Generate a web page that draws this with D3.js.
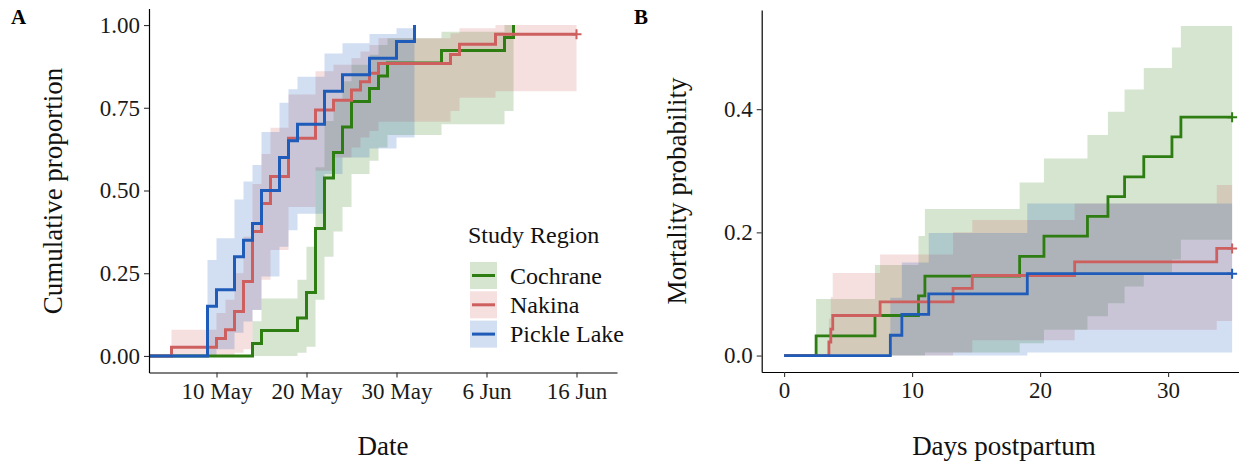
<!DOCTYPE html>
<html><head><meta charset="utf-8">
<script src="https://cdn.jsdelivr.net/npm/d3@7"></script>
<style>
body{margin:0;background:#fff}
svg{display:block}
text{font-family:"Liberation Serif","Times New Roman",serif}
</style>
</head><body>
<svg id="c" width="1239" height="465"></svg>
<script>
// ---------- shared ----------
const regions = ["Cochrane", "Nakina", "Pickle Lake"];
const lineColors = ["#2e7d12", "#cd5f5f", "#1f5bb8"];

// ---------- Panel A : cumulative proportion by date (days after 10 May) ----------
const aXTicks = [0, 10, 20, 30, 40];
const aXTickLabels = ["10 May", "20 May", "30 May", "6 Jun", "16 Jun"];
const aYTicks = [0, 0.25, 0.5, 0.75, 1];
const aStart = -7.4;

const cochraneA_t  = [4, 5, 9, 10, 11, 12, 13, 14, 15, 17, 18, 19, 25, 32, 33];
const cochraneA_y  = [0.038, 0.077, 0.115, 0.192, 0.385, 0.538, 0.615, 0.692, 0.769, 0.808, 0.846, 0.885, 0.923, 0.962, 1.0];
const cochraneA_lo = [0, 0, 0.01, 0.028, 0.17, 0.30, 0.376, 0.45, 0.55, 0.59, 0.63, 0.668, 0.70, 0.74, 1.0];
const cochraneA_hi = [0.105, 0.174, 0.23, 0.33, 0.57, 0.71, 0.77, 0.83, 0.88, 0.91, 0.94, 0.96, 0.98, 1.0, 1.0];
const cochraneA_end = 33;

const nakinaA_t  = [-5, 0, 1, 2, 3, 4, 5, 6, 8, 11, 13, 15, 16, 17, 18, 26, 27, 31];
const nakinaA_y  = [0.026, 0.053, 0.079, 0.134, 0.225, 0.376, 0.461, 0.542, 0.658, 0.743, 0.773, 0.804, 0.829, 0.854, 0.884, 0.911, 0.942, 0.972];
const nakinaA_lo = [0, 0, 0, 0.01, 0.02, 0.14, 0.23, 0.32, 0.45, 0.56, 0.60, 0.63, 0.66, 0.68, 0.708, 0.74, 0.78, 0.80];
const nakinaA_hi = [0.079, 0.13, 0.17, 0.25, 0.36, 0.52, 0.61, 0.69, 0.79, 0.86, 0.88, 0.90, 0.92, 0.94, 0.96, 0.975, 0.99, 1.0];
const nakinaA_end = 40;

const pickleA_t  = [-1, 0, 2, 3, 4, 5, 7, 8, 9, 12, 14, 17, 20, 22];
const pickleA_y  = [0.15, 0.20, 0.30, 0.35, 0.40, 0.50, 0.60, 0.65, 0.70, 0.80, 0.85, 0.90, 0.95, 1.0];
const pickleA_lo = [0, 0.02, 0.07, 0.104, 0.139, 0.24, 0.33, 0.38, 0.43, 0.55, 0.60, 0.627, 0.66, 1.0];
const pickleA_hi = [0.29, 0.356, 0.473, 0.527, 0.577, 0.677, 0.765, 0.806, 0.844, 0.914, 0.945, 0.973, 0.99, 1.0];
const pickleA_end = 22;

// ---------- Panel B : mortality probability by days postpartum ----------
const bXTicks = [0, 10, 20, 30];
const bYTicks = [0, 0.2, 0.4];
const bStart = 0;

const cochraneB_t  = [2.5, 7.1, 10.5, 11.0, 18.4, 20.3, 23.7, 25.3, 26.6, 28.1, 30.3, 31.0];
const cochraneB_y  = [0.032, 0.065, 0.097, 0.129, 0.161, 0.194, 0.226, 0.258, 0.290, 0.323, 0.355, 0.387];
const cochraneB_lo = [0, 0, 0, 0.005, 0.02, 0.042, 0.064, 0.085, 0.112, 0.135, 0.156, 0.188];
const cochraneB_hi = [0.092, 0.147, 0.194, 0.238, 0.281, 0.32, 0.358, 0.396, 0.432, 0.467, 0.50, 0.535];
const cochraneB_end = 35;

const nakinaB_t  = [3.5, 3.65, 3.8, 7.5, 13.2, 14.7, 22.7, 33.8];
const nakinaB_y  = [0.022, 0.043, 0.065, 0.087, 0.109, 0.130, 0.152, 0.174];
const nakinaB_lo = [0, 0, 0, 0, 0.005, 0.025, 0.042, 0.056];
const nakinaB_hi = [0.06, 0.095, 0.134, 0.164, 0.20, 0.22, 0.247, 0.277];
const nakinaB_end = 35;

const pickleB_t  = [8.3, 9.2, 11.3, 19.0];
const pickleB_y  = [0.033, 0.067, 0.10, 0.133];
const pickleB_lo = [0, 0, 0, 0.005];
const pickleB_hi = [0.094, 0.151, 0.199, 0.247];
const pickleB_end = 35;

// ---------- build ----------
function series(t, y, lo, hi, end, start) {
  const line = [[start, 0]].concat(t.map((d, i) => [d, y[i]]));
  line.push([end, y[y.length - 1]]);
  const band = t.map((d, i) => ({x: d, lo: lo[i], hi: hi[i]}));
  band.push({x: end, lo: lo[lo.length - 1], hi: hi[hi.length - 1]});
  return {line, band, end, last: y[y.length - 1]};
}

const seriesA = [
  series(cochraneA_t, cochraneA_y, cochraneA_lo, cochraneA_hi, cochraneA_end, aStart),
  series(nakinaA_t, nakinaA_y, nakinaA_lo, nakinaA_hi, nakinaA_end, aStart),
  series(pickleA_t, pickleA_y, pickleA_lo, pickleA_hi, pickleA_end, aStart)
];
const censorA = [false, true, false];

const seriesB = [
  series(cochraneB_t, cochraneB_y, cochraneB_lo, cochraneB_hi, cochraneB_end, bStart),
  series(nakinaB_t, nakinaB_y, nakinaB_lo, nakinaB_hi, nakinaB_end, bStart),
  series(pickleB_t, pickleB_y, pickleB_lo, pickleB_hi, pickleB_end, bStart)
];
const censorB = [true, true, true];

const svg = d3.select("#c");

function drawPanel(x, y, data, censor, lw) {
  const g = svg.append("g");
  const area = d3.area().curve(d3.curveStepAfter)
    .x(d => x(d.x)).y0(d => y(d.lo)).y1(d => y(d.hi));
  const line = d3.line().curve(d3.curveStepAfter)
    .x(d => x(d[0])).y(d => y(d[1]));
  data.forEach((s, i) => {
    g.append("path").attr("d", area(s.band))
      .attr("fill", lineColors[i]).attr("fill-opacity", 0.2);
  });
  data.forEach((s, i) => {
    g.append("path").attr("d", line(s.line))
      .attr("fill", "none").attr("stroke", lineColors[i])
      .attr("stroke-width", lw).attr("stroke-linejoin", "miter");
    if (censor[i]) {
      const cx = x(s.end), cy = y(s.last);
      g.append("path")
        .attr("d", `M${cx - 5},${cy}H${cx + 5}M${cx},${cy - 5}V${cy + 5}`)
        .attr("stroke", lineColors[i]).attr("stroke-width", 2).attr("fill", "none");
    }
  });
}

function styleAxis(sel) {
  sel.select(".domain").attr("stroke", "#000").attr("stroke-width", 1.2);
  sel.selectAll(".tick line").attr("stroke", "#333").attr("stroke-width", 1.1);
  sel.selectAll(".tick text").attr("font-size", "23px").attr("fill", "#1a1a1a")
    .attr("font-family", "'Liberation Serif','Times New Roman',serif");
}

// Panel A
const xA = d3.scaleLinear().domain([-7.5, 44.5]).range([149, 617]);
const yA = d3.scaleLinear().domain([-0.05, 1.05]).range([372.5, 8.5]);
drawPanel(xA, yA, seriesA, censorA, 3);

svg.append("g").attr("transform", "translate(0,372.5)")
  .call(d3.axisBottom(xA).tickValues(aXTicks).tickFormat((d, i) => aXTickLabels[i])
    .tickSize(5).tickSizeOuter(0).tickPadding(5))
  .call(styleAxis);
svg.append("g").attr("transform", "translate(149,0)")
  .call(d3.axisLeft(yA).tickValues(aYTicks).tickFormat(d3.format(".2f"))
    .tickSize(5).tickSizeOuter(0).tickPadding(4))
  .call(styleAxis);

// Panel B
const xB = d3.scaleLinear().domain([-1.75, 36.75]).range([761.7, 1254.5]);
const yB = d3.scaleLinear().domain([-0.0267, 0.561]).range([372, 10]);
drawPanel(xB, yB, seriesB, censorB, 2.8);

svg.append("g").attr("transform", "translate(0,372)")
  .call(d3.axisBottom(xB).tickValues(bXTicks).tickFormat(d3.format("d"))
    .tickSize(5).tickSizeOuter(0).tickPadding(5))
  .call(styleAxis);
svg.append("g").attr("transform", "translate(761.7,0)")
  .call(d3.axisLeft(yB).tickValues(bYTicks).tickFormat(d3.format(".1f"))
    .tickSize(5).tickSizeOuter(0).tickPadding(4))
  .call(styleAxis);

// titles
const tcol = "#111";
svg.append("text").attr("x", 383).attr("y", 455).attr("text-anchor", "middle")
  .attr("font-size", "27px").attr("fill", tcol).text("Date");
svg.append("text").attr("transform", "translate(62,191) rotate(-90)").attr("text-anchor", "middle")
  .attr("font-size", "27px").attr("fill", tcol).text("Cumulative proportion");
svg.append("text").attr("x", 1004).attr("y", 455).attr("text-anchor", "middle")
  .attr("font-size", "27px").attr("fill", tcol).text("Days postpartum");
svg.append("text").attr("transform", "translate(686,191) rotate(-90)").attr("text-anchor", "middle")
  .attr("font-size", "27px").attr("fill", tcol).text("Mortality probability");
svg.append("text").attr("x", 11).attr("y", 24).attr("font-size", "21px").attr("font-weight", "bold")
  .attr("fill", "#000").text("A");
svg.append("text").attr("x", 634).attr("y", 24).attr("font-size", "21px").attr("font-weight", "bold")
  .attr("fill", "#000").text("B");

// legend
const lg = svg.append("g");
lg.append("text").attr("x", 468).attr("y", 243).attr("font-size", "24px").attr("fill", tcol).text("Study Region");
regions.forEach((r, i) => {
  const top = 262 + i * 29.3;
  lg.append("rect").attr("x", 470).attr("y", top).attr("width", 27).attr("height", 27)
    .attr("fill", lineColors[i]).attr("fill-opacity", 0.2);
  lg.append("line").attr("x1", 472).attr("x2", 495).attr("y1", top + 13.5).attr("y2", top + 13.5)
    .attr("stroke", lineColors[i]).attr("stroke-width", 3);
  lg.append("text").attr("x", 510).attr("y", top + 21.5).attr("font-size", "24px").attr("fill", tcol).text(r);
});
</script>
</body></html>
